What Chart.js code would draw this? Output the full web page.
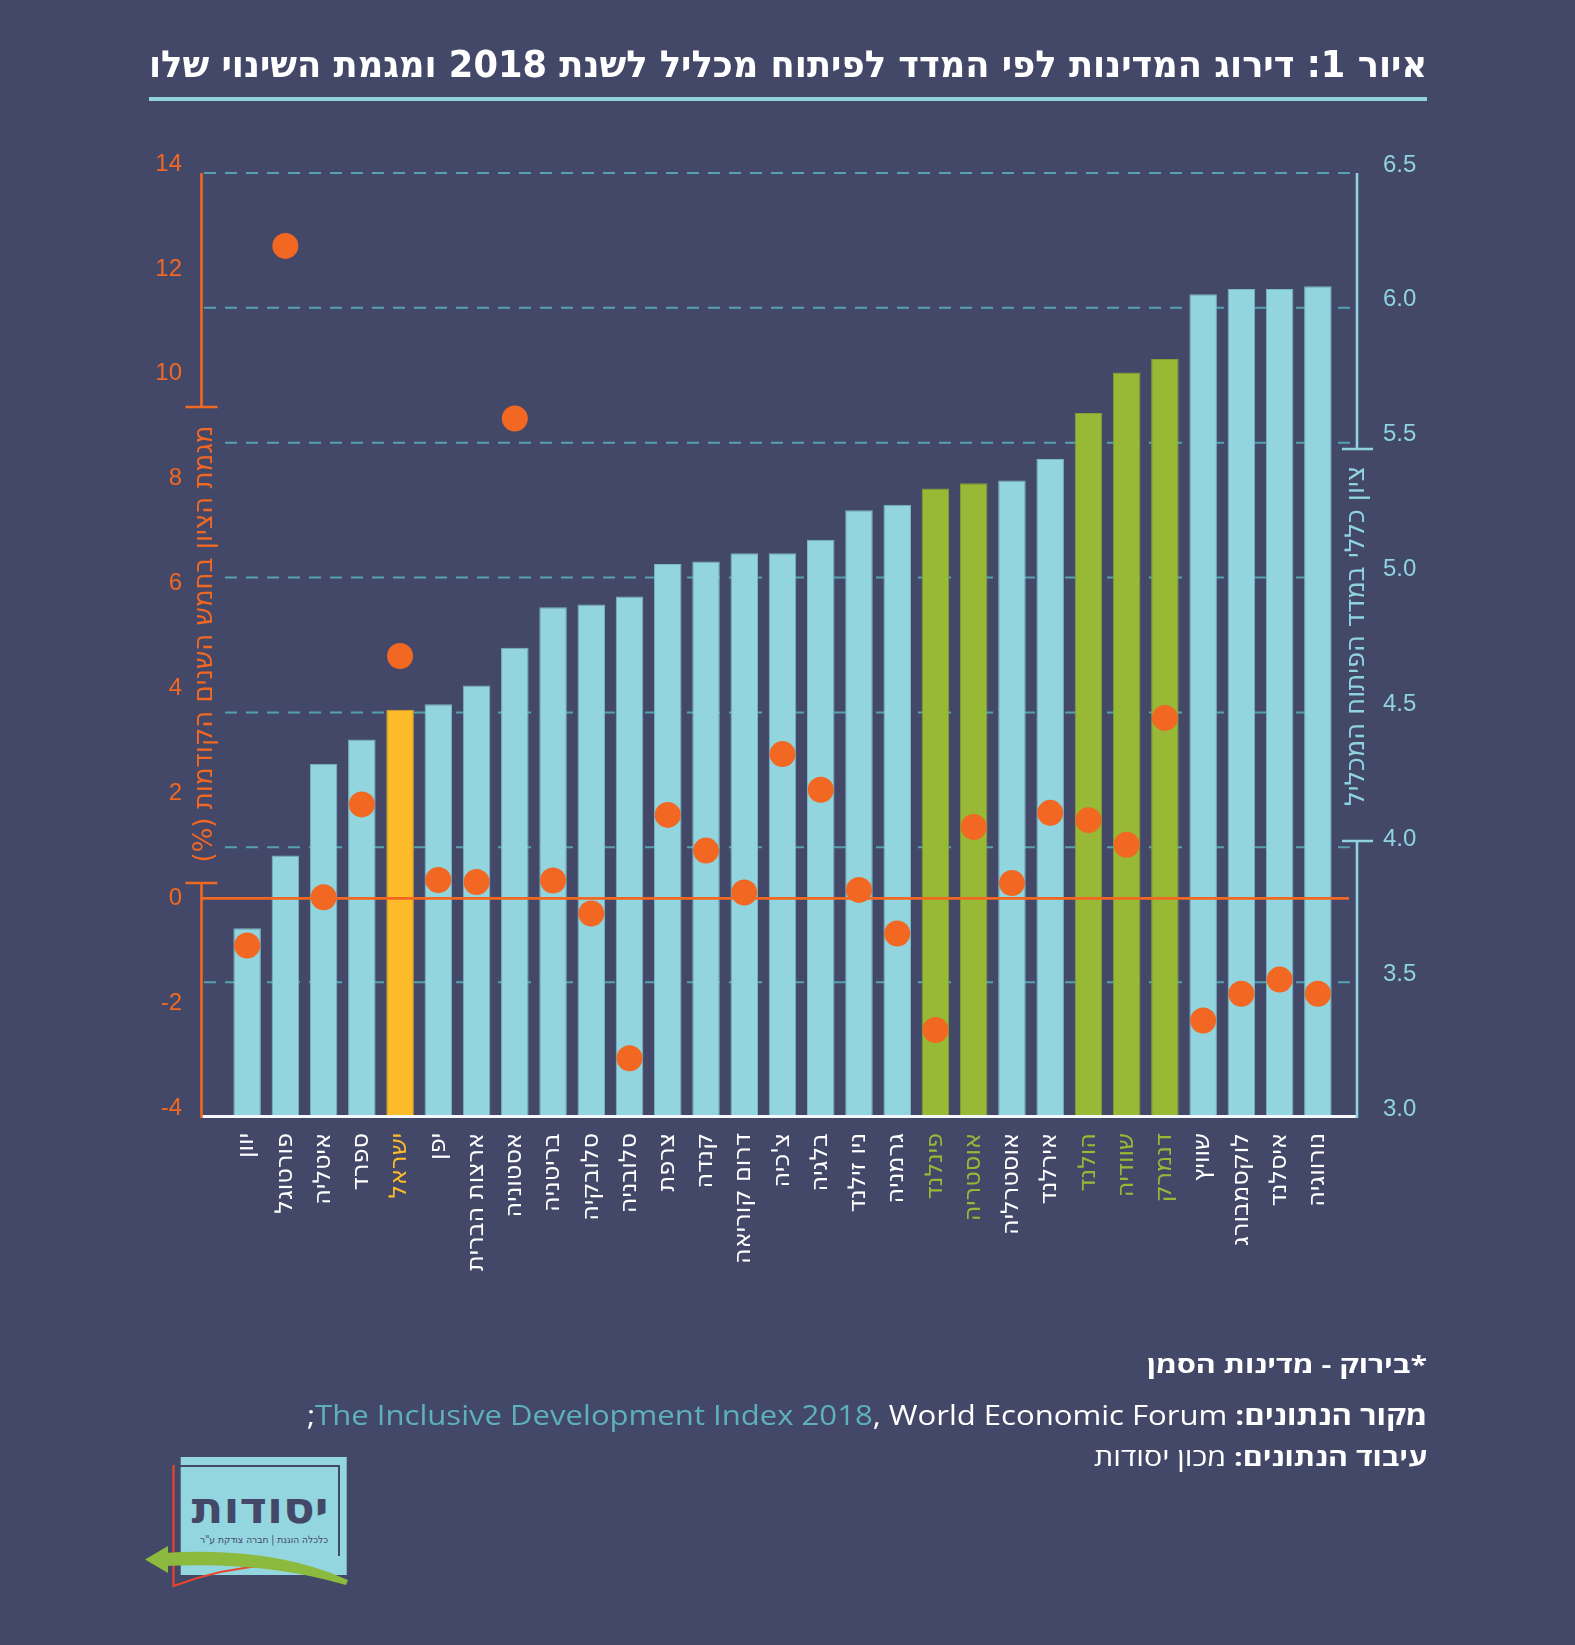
<!DOCTYPE html>
<html lang="he">
<head>
<meta charset="utf-8">
<script src="https://cdn.jsdelivr.net/npm/chart.js@4.4.1/dist/chart.umd.min.js"></script>
<style>
html,body{margin:0;padding:0;background:#434868;}
body{width:1575px;height:1645px;position:relative;overflow:hidden;}
#c{position:absolute;left:0;top:0;}
.fit{position:absolute;white-space:nowrap;transform-origin:right center;color:#ffffff;}
#title{right:148px;top:45px;line-height:40px;font-size:37px;font-weight:bold;font-family:'DejaVu Sans Condensed','DejaVu Sans',sans-serif;}
#rule{position:absolute;left:149px;top:97px;width:1278px;height:4px;background:#8fd3df;}
#note{right:148px;top:1348px;line-height:32px;font-size:24px;font-weight:bold;font-family:'Open Sans','DejaVu Sans Condensed',sans-serif;}
#src{right:148px;top:1398px;line-height:34px;font-size:27px;font-family:'Open Sans','DejaVu Sans Condensed',sans-serif;}
#src b,#proc b{font-weight:bold;}
#proc{right:148px;top:1440px;line-height:32px;font-size:25px;font-family:'Open Sans','DejaVu Sans Condensed',sans-serif;}
.teal{color:#5eb0bd;}
#logo{position:absolute;left:130px;top:1440px;}
</style>
</head>
<body>
<canvas id="c" width="1575" height="1645"></canvas>
<div id="title" class="fit" dir="rtl">איור 1: דירוג המדינות לפי המדד לפיתוח מכליל לשנת 2018 ומגמת השינוי שלו</div>
<div id="rule"></div>
<div id="note" class="fit" dir="rtl">*בירוק - מדינות הסמן</div>
<div id="src" class="fit" dir="rtl"><b>מקור הנתונים:</b> <span class="teal">The Inclusive Development Index 2018</span>, World Economic Forum;</div>
<div id="proc" class="fit" dir="rtl"><b>עיבוד הנתונים:</b> מכון יסודות</div>
<svg id="logo" width="240" height="160" viewBox="130 1440 240 160">
  <rect x="180.7" y="1457" width="166" height="118" fill="#93d6df"/>
  <polyline points="176,1560 176,1466 339,1466 339,1556" fill="none" stroke="#434868" stroke-width="2"/>
  <path d="M173.5,1465 L173.5,1586 Q222,1568 270,1565" fill="none" stroke="#e8452f" stroke-width="2.2"/>
  <path d="M163,1553 Q272,1546 348,1580 L346,1585 Q266,1561 163,1566 Z" fill="#8cba3f"/>
  <path d="M145,1559.5 L168,1546 L168,1573 Z" fill="#8cba3f"/>
  <text x="260" y="1523" text-anchor="middle" direction="rtl" font-family="DejaVu Sans Condensed, DejaVu Sans" font-weight="bold" font-size="44" textLength="137" lengthAdjust="spacingAndGlyphs" fill="#434868">יסודות</text>
  <text x="264" y="1543" text-anchor="middle" direction="rtl" font-family="DejaVu Sans Condensed, DejaVu Sans" font-size="10" textLength="128" lengthAdjust="spacingAndGlyphs" fill="#434868">כלכלה הוגנת | חברה צודקת ע"ר</text>
</svg>
<script>
// ---- data ----
const categories = ['יוון','פורטוגל','איטליה','ספרד','ישראל','יפן','ארצות הברית','אסטוניה','בריטניה','סלובקיה','סלובניה','צרפת','קנדה','דרום קוריאה',"צ'כיה",'בלגיה','ניו זילנד','גרמניה','פינלנד','אוסטריה','אוסטרליה','אירלנד','הולנד','שוודיה','דנמרק','שוויץ','לוקסמבורג','איסלנד','נורווגיה'];
const idiScore = [3.70,3.97,4.31,4.40,4.51,4.53,4.60,4.74,4.89,4.90,4.93,5.05,5.06,5.09,5.09,5.14,5.25,5.27,5.33,5.35,5.36,5.44,5.61,5.76,5.81,6.05,6.07,6.07,6.08];
const trend5y = [-0.90,12.44,0.02,1.79,4.62,0.35,0.31,9.15,0.34,-0.29,-3.05,1.59,0.91,0.11,2.75,2.07,0.16,-0.67,-2.51,1.36,0.29,1.63,1.49,1.02,3.44,-2.33,-1.82,-1.55,-1.82];
const benchmarkCountries = ['פינלנד','אוסטריה','הולנד','שוודיה','דנמרק'];
const highlightCountry = 'ישראל';
const leftTicks = [-4,-2,0,2,4,6,8,10,12,14];
const rightTicks = [3.0,3.5,4.0,4.5,5.0,5.5,6.0,6.5];
const leftAxisTitle = 'מגמת הציון בחמש השנים הקודמות (%)';
const rightAxisTitle = 'ציון כללי במדד הפיתוח המכליל';

// ---- styles ----
const ORANGE='#f26722', LIGHT='#8fd3df', BAR='#93d5de', BAR_EDGE='#78b6c4', GREEN='#97b935', GREEN_EDGE='#849f34', YELLOW='#fdbb2a', GRID='#55a1b0', WHITE='#ffffff';
const HEB='"DejaVu Sans Condensed","DejaVu Sans",sans-serif';
function kind(i){ const c=categories[i]; if(c===highlightCountry) return 'hi'; if(benchmarkCountries.includes(c)) return 'bm'; return 'std'; }
const fill = categories.map((c,i)=>({hi:YELLOW,bm:GREEN,std:BAR})[kind(i)]);
const edge = categories.map((c,i)=>({hi:'#e0a526',bm:GREEN_EDGE,std:BAR_EDGE})[kind(i)]);
const labelColor = i => ({hi:YELLOW,bm:GREEN,std:WHITE})[kind(i)];

function fitText(ctx,text,cx,cy,len,font,color){
  ctx.save(); ctx.font=font; ctx.fillStyle=color; ctx.direction='rtl'; ctx.textAlign='center'; ctx.textBaseline='middle';
  const w=ctx.measureText(text).width; ctx.translate(cx,cy); ctx.rotate(-Math.PI/2); ctx.scale(len/w,1); ctx.fillText(text,0,0); ctx.restore();
}

const decor = {
  id:'decor',
  beforeDatasetsDraw(chart){
    const {ctx,chartArea:a}=chart, yR=chart.scales.yR;
    const axL=a.left-26, axR=a.right+20;
    ctx.save(); ctx.strokeStyle=GRID; ctx.lineWidth=2; ctx.setLineDash([12,9]);
    yR.ticks.forEach(t=>{
      if(t.value<=yR.min) return;
      const y=yR.getPixelForValue(t.value);
      const x0=(y>407&&y<883)?axL+23:axL+2;
      const x1=(y>449&&y<841)?a.right:axR;
      ctx.beginPath(); ctx.moveTo(x0,y); ctx.lineTo(x1,y); ctx.stroke();
    });
    ctx.restore();
  },
  beforeDatasetDraw(chart,args){
    if(args.index!==0) return;
    const {ctx,chartArea:a}=chart, y=chart.scales.yL.getPixelForValue(0);
    ctx.save(); ctx.strokeStyle=ORANGE; ctx.lineWidth=2.7;
    ctx.beginPath(); ctx.moveTo(a.left-26,y); ctx.lineTo(a.right+12,y); ctx.stroke(); ctx.restore();
  },
  afterDatasetsDraw(chart){
    const {ctx,chartArea:a}=chart;
    const axL=a.left-26.5, axR=a.right+20;
    ctx.save();
    ctx.strokeStyle='#f4f8fa'; ctx.lineWidth=3;
    ctx.beginPath(); ctx.moveTo(axL,a.bottom-0.5); ctx.lineTo(axR,a.bottom-0.5); ctx.stroke();
    ctx.strokeStyle=ORANGE; ctx.lineWidth=2.6;
    ctx.beginPath(); ctx.moveTo(axL,a.top); ctx.lineTo(axL,407); ctx.moveTo(axL,883); ctx.lineTo(axL,a.bottom+1);
    ctx.moveTo(axL-16,407); ctx.lineTo(axL+16,407); ctx.moveTo(axL-16,883); ctx.lineTo(axL+16,883); ctx.stroke();
    ctx.strokeStyle=LIGHT;
    ctx.beginPath(); ctx.moveTo(axR,a.top); ctx.lineTo(axR,449); ctx.moveTo(axR,841); ctx.lineTo(axR,a.bottom+1);
    ctx.moveTo(axR-15,449); ctx.lineTo(axR+16,449); ctx.moveTo(axR-15,841); ctx.lineTo(axR+16,841); ctx.stroke();
    ctx.restore();
    fitText(ctx,leftAxisTitle,axL+3,644,437,'27px '+HEB,ORANGE);
    fitText(ctx,rightAxisTitle,axR,636,340,'27px '+HEB,LIGHT);
  }
};

new Chart(document.getElementById('c'),{
  type:'bar',
  data:{
    labels:categories,
    datasets:[
      {type:'line',label:'מגמה',data:trend5y,yAxisID:'yL',showLine:false,pointRadius:13,pointHoverRadius:13,pointBackgroundColor:ORANGE,pointBorderWidth:0,borderColor:ORANGE,order:0},
      {type:'bar',label:'ציון',data:idiScore,yAxisID:'yR',backgroundColor:fill,borderColor:edge,borderWidth:1,barPercentage:0.72,categoryPercentage:1,order:1}
    ]
  },
  options:{
    responsive:false,animation:false,devicePixelRatio:1,
    layout:{padding:{top:173,left:0,right:0,bottom:0}},
    plugins:{legend:{display:false},tooltip:{enabled:false}},
    scales:{
      x:{type:'category',offset:true,grid:{display:false,drawTicks:false},border:{display:false},
        ticks:{autoSkip:false,minRotation:90,maxRotation:90,padding:16,color:c=>labelColor(c.index),font:{family:'"DejaVu Sans",sans-serif',size:24}},
        afterFit:s=>{s.height=528;}},
      yL:{position:'left',min:-4.17,max:13.83,grid:{display:false,drawTicks:false},border:{display:false},
        afterBuildTicks:s=>{s.ticks=leftTicks.map(v=>({value:v}));},
        ticks:{color:ORANGE,padding:46,font:{family:'"Liberation Sans",sans-serif',size:24}},
        afterFit:s=>{s.width=228;}},
      yR:{position:'right',min:3,max:6.5,grid:{display:false,drawTicks:false},border:{display:false},
        afterBuildTicks:s=>{s.ticks=rightTicks.map(v=>({value:v}));},
        ticks:{color:LIGHT,padding:46,labelOffset:-8,callback:v=>Number(v).toFixed(1),font:{family:'"Liberation Sans",sans-serif',size:24}},
        afterFit:s=>{s.width=238;}}
    }
  },
  plugins:[decor]
});

[['title',1278],['note',280],['src',1120],['proc',333]].forEach(([id,w])=>{
  const el=document.getElementById(id); el.style.transform='scaleX('+(w/el.offsetWidth)+')';
});
</script>
</body>
</html>
